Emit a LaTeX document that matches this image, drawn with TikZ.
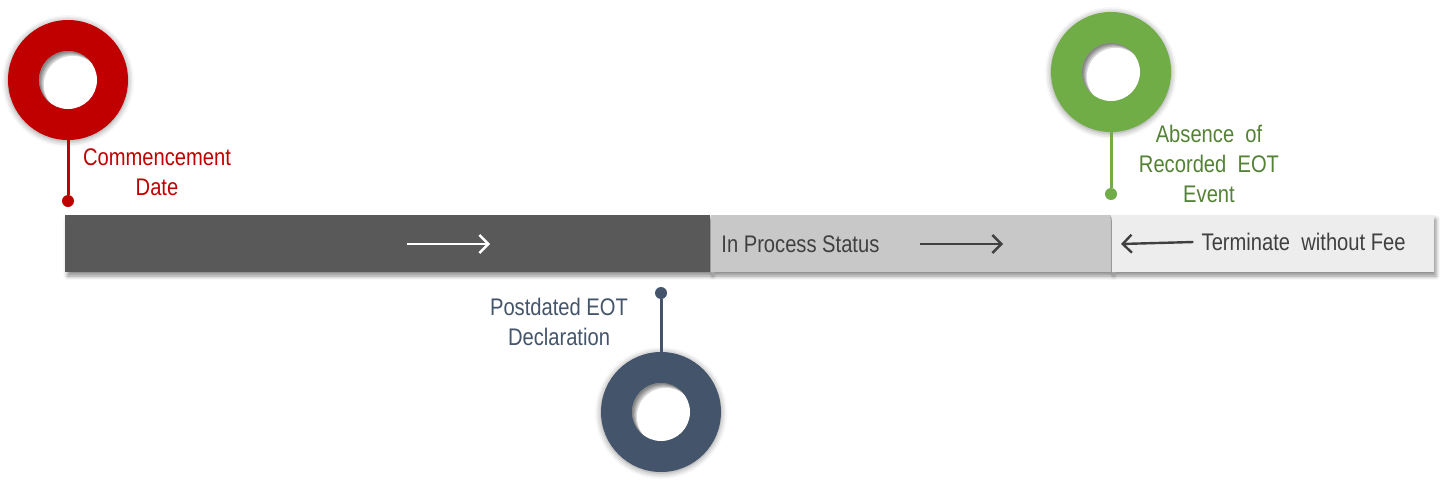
\documentclass[tikz,border=0pt]{standalone}
\usepackage{fontspec}
\setmainfont[FakeStretch=0.84]{Liberation Sans}
\usetikzlibrary{positioning,arrows.meta,shadows.blur}

\definecolor{ringred}{HTML}{C00000}
\definecolor{ringgreen}{HTML}{70AD47}
\definecolor{textgreen}{HTML}{548235}
\definecolor{ringnavy}{HTML}{44546A}
\definecolor{bardark}{HTML}{595959}
\definecolor{barmid}{HTML}{C8C8C8}
\definecolor{barlight}{HTML}{EDEDED}
\definecolor{bartext}{HTML}{404040}

\tikzset{
  ring/.style={circle, inner sep=0pt, minimum size=60pt,
    blur shadow={shadow xshift=0pt, shadow yshift=-0.5pt, shadow blur radius=3pt, shadow opacity=45}},
  hole/.style={circle, fill=white, inner sep=0pt, minimum size=29pt},
  pin/.style={circle, inner sep=0pt, minimum size=6pt},
  stem/.style={line width=1.5pt},
  tag/.style={align=center, inner sep=0pt},
  seg/.style={rectangle, inner sep=0pt, minimum height=28.5pt, anchor=west,
    blur shadow={shadow xshift=1pt, shadow yshift=-2pt, shadow blur radius=2pt, shadow opacity=45}},
  flow/.style={line width=1.2pt, -{Straight Barb[length=4.5pt,width=9pt]}}
}

% soft shadow inside the hole of a ring
\newcommand{\ringhole}[1]{%
  \begin{scope}
    \clip (#1.center) circle (14.5pt);
    \foreach \d in {0.6,1.2,1.8,2.4}
      \draw[black, opacity=0.15, line width=8pt] ([shift={(\d pt,-\d pt)}]#1.center) circle (18.5pt);
  \end{scope}}

\begin{document}
\begin{tikzpicture}[x=0.5pt, y=-0.5pt, font=\fontsize{12pt}{15pt}\selectfont]
\useasboundingbox (0,0) rectangle (1440,487);

% the time bar
\node[seg, fill=bardark, minimum width=322.5pt] (phaseA) at (65,243.5) {};
\node[seg, fill=barmid, minimum width=200pt, right=0pt of phaseA] (phaseB) {};
\node[seg, fill=barlight, minimum width=161pt, right=0pt of phaseB] (phaseC) {};

\node[tag, anchor=west, text=bartext] (inProcess) at (721,244) {In Process Status};
\node[tag, anchor=east, text=bartext] (terminate) at (1406,242) {Terminate\ \ without Fee};

\coordinate (flowA1) at (407,244);
\coordinate (flowA2) at (490,244);
\coordinate (flowB1) at (920,244);
\coordinate (flowB2) at (1003,244);
\draw[flow, white] (flowA1) -- (flowA2);
\draw[flow, bartext] (flowB1) -- (flowB2);
\draw[flow, bartext] (terminate.west) ++(-4pt,0) coordinate (flowC1) -- (1121,244);

% commencement
\node[ring, fill=ringred] (start) at (68,80) {};
\node[hole] (startHole) at (start) {};
\ringhole{startHole}
\node[pin, fill=ringred] (startPin) at (68,201) {};
\draw[stem, ringred] (start) -- (startPin);
\node[tag, text=ringred] (startText) at (157,172) {Commencement\\Date};

% postdated declaration
\node[ring, fill=ringnavy] (declare) at (661,412) {};
\node[hole] (declareHole) at (declare) {};
\ringhole{declareHole}
\node[pin, fill=ringnavy] (declarePin) at (661,293) {};
\draw[stem, ringnavy] (declare) -- (declarePin);
\node[tag, text=ringnavy] (declareText) at (559,322) {Postdated EOT\\Declaration};

% absence of event
\node[ring, fill=ringgreen] (absence) at (1111,72) {};
\node[hole] (absenceHole) at (absence) {};
\ringhole{absenceHole}
\node[pin, fill=ringgreen] (absencePin) at (1111,194) {};
\draw[stem, ringgreen] (absence) -- (absencePin);
\node[tag, text=textgreen] (absenceText) at (1209,164) {Absence\ \ of\\Recorded\ \ EOT\\Event};
\end{tikzpicture}
\end{document}
